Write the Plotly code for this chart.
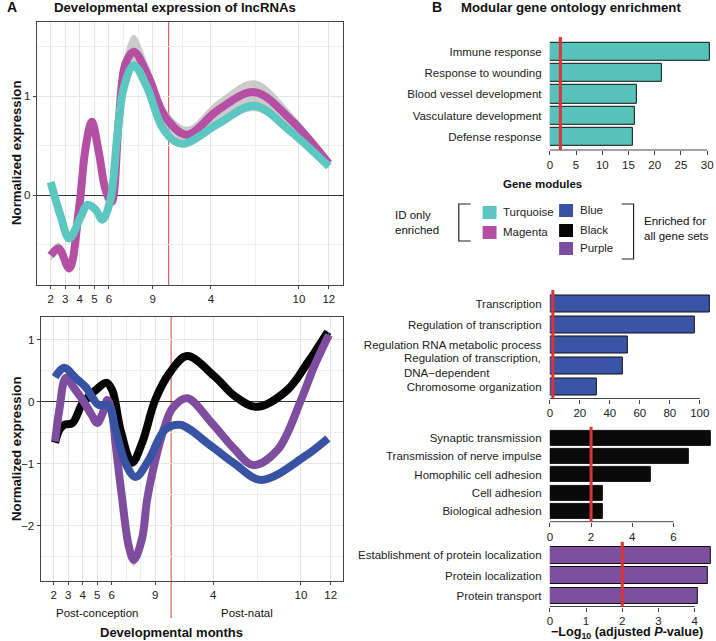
import plotly.graph_objects as go

# Panel A, top: smoothed expression of ID-only modules
# x = developmental timeline (months post-conception, post-natal part compressed)
turq_t = [2.0, 2.7, 3.27, 4.07, 4.52, 5.1, 5.55, 6.1, 6.57, 7.03, 7.71, 8.62, 9.64, 10.55, 11.25, 13.5, 16.0, 18.5, 21.1]
turq_v = [0.13, -0.22, -0.44, -0.22, -0.10, -0.15, -0.25, -0.05, 0.59, 1.09, 1.31, 1.09, 0.69, 0.54, 0.52, 0.72, 0.90, 0.64, 0.29]
turq_se = [0.03, 0.03, 0.03, 0.03, 0.03, 0.03, 0.03, 0.03, 0.03, 0.04, 0.05, 0.04, 0.04, 0.03, 0.03, 0.04, 0.05, 0.04, 0.03]

mag_t = [2.0, 2.55, 3.27, 3.96, 4.41, 4.82, 5.32, 5.77, 6.18, 6.68, 7.14, 7.71, 8.73, 9.87, 11.35, 13.5, 16.0, 18.5, 21.1]
mag_v = [-0.61, -0.54, -0.74, -0.12, 0.49, 0.74, 0.42, 0.05, -0.07, 0.76, 1.33, 1.45, 1.19, 0.79, 0.61, 0.86, 1.04, 0.76, 0.32]
mag_se = [0.06, 0.06, 0.05, 0.04, 0.04, 0.04, 0.04, 0.04, 0.04, 0.06, 0.12, 0.17, 0.12, 0.09, 0.08, 0.10, 0.12, 0.08, 0.04]

# Panel A, bottom: modules enriched for all gene sets
black_t = [2.1, 2.4, 2.73, 3.3, 4.0, 4.9, 5.63, 6.04, 6.61, 7.4, 8.1, 9.0, 10.0, 11.2, 13.1, 14.5, 16.0, 18.1, 19.5, 20.9]
black_v = [-0.66, -0.45, -0.37, -0.34, -0.02, 0.19, 0.31, 0.19, -0.45, -0.98, -0.66, 0.03, 0.47, 0.74, 0.41, 0.09, -0.08, 0.19, 0.63, 1.13]
black_se = [0.04, 0.04, 0.03, 0.03, 0.03, 0.03, 0.03, 0.03, 0.04, 0.07, 0.05, 0.04, 0.04, 0.04, 0.04, 0.04, 0.06, 0.04, 0.04, 0.05]

blue_t = [2.1, 2.73, 3.5, 4.2, 5.1, 5.77, 6.27, 6.95, 7.64, 8.55, 9.67, 10.7, 12.9, 14.5, 16.3, 19.3, 20.9]
blue_v = [0.40, 0.55, 0.39, 0.24, -0.05, -0.05, -0.45, -0.99, -1.21, -0.94, -0.45, -0.37, -0.72, -1.0, -1.26, -0.88, -0.59]
blue_se = [0.03, 0.03, 0.03, 0.03, 0.03, 0.03, 0.03, 0.04, 0.05, 0.04, 0.03, 0.03, 0.03, 0.03, 0.04, 0.03, 0.03]

purple_t = [2.1, 2.39, 2.85, 3.42, 4.0, 4.6, 5.0, 5.35, 5.7, 6.0, 6.27, 6.73, 7.18, 7.53, 8.1, 8.44, 9.0, 9.58, 10.2, 11.2, 12.9, 14.5, 15.75, 17.45, 19.05, 19.95, 20.97]
purple_v = [-0.64, -0.13, 0.39, 0.22, 0.03, -0.2, -0.34, -0.2, 0.03, -0.15, -0.68, -1.58, -2.33, -2.55, -2.2, -1.58, -0.95, -0.45, -0.1, 0.06, -0.34, -0.77, -1.02, -0.77, 0.03, 0.57, 1.08]
purple_se = [0.04, 0.04, 0.04, 0.03, 0.03, 0.03, 0.03, 0.03, 0.03, 0.03, 0.04, 0.05, 0.07, 0.1, 0.07, 0.05, 0.04, 0.04, 0.04, 0.04, 0.04, 0.04, 0.06, 0.04, 0.04, 0.04, 0.04]

dev_tickvals = [2, 3, 4, 5, 6, 9, 13.0, 19.05, 21.1]
dev_ticktext = ["2", "3", "4", "5", "6", "9", "4", "10", "12"]
birth = 10.1

# Panel B: -log10(adjusted P) per GO term
turq_terms = ["Immune response", "Response to wounding", "Blood vessel development",
              "Vasculature development", "Defense response"]
turq_scores = [30.5, 21.4, 16.6, 16.2, 15.8]
blue_terms = ["Transcription", "Regulation of transcription", "Regulation RNA metabolic process",
              "Regulation of transcription,<br>DNA\u2212dependent", "Chromosome organization"]
blue_scores = [107, 97, 51.8, 48.7, 31.5]
black_terms = ["Synaptic transmission", "Transmission of nerve impulse", "Homophilic cell adhesion",
               "Cell adhesion", "Biological adhesion"]
black_scores = [7.8, 6.75, 4.9, 2.57, 2.58]
purple_terms = ["Establishment of protein localization", "Protein localization", "Protein transport"]
purple_scores = [4.44, 4.36, 4.09]
cutoff = 2

W, H = 716, 641
FONT = "Liberation Sans, Arial, sans-serif"
TXT = "#222222"

C_TURQ = "#5CC6C0"
C_MAG = "#B54FA3"
C_BLUE = "#3853A4"
C_BLACK = "#050505"
C_PURPLE = "#7F4DA0"
C_RED = "#D93535"


def fx(p):
    return p / W


def fy(p):
    return 1 - p / H


fig = go.Figure()


def add_curve(t, v, se, color, xa, ya):
    lo = [a - b for a, b in zip(v, se)]
    hi = [a + b for a, b in zip(v, se)]
    fig.add_trace(go.Scatter(x=t, y=lo, mode="lines", line=dict(width=0, shape="spline"),
                             xaxis=xa, yaxis=ya, showlegend=False, hoverinfo="skip"))
    fig.add_trace(go.Scatter(x=t, y=hi, mode="lines", line=dict(width=0, shape="spline"),
                             fill="tonexty", fillcolor="rgba(185,185,185,0.75)",
                             xaxis=xa, yaxis=ya, showlegend=False, hoverinfo="skip"))
    fig.add_trace(go.Scatter(x=t, y=v, mode="lines", line=dict(color=color, width=8, shape="spline"),
                             xaxis=xa, yaxis=ya, showlegend=False))


add_curve(mag_t, mag_v, mag_se, C_MAG, "x", "y")
add_curve(turq_t, turq_v, turq_se, C_TURQ, "x", "y")
add_curve(black_t, black_v, black_se, C_BLACK, "x2", "y2")
add_curve(purple_t, purple_v, purple_se, C_PURPLE, "x2", "y2")
add_curve(blue_t, blue_v, blue_se, C_BLUE, "x2", "y2")

dev_axis = dict(tickmode="array", tickvals=dev_tickvals, ticktext=dev_ticktext,
                showgrid=True, gridcolor="#e6e6e6", gridwidth=1,
                minor=dict(tickmode="array", tickvals=[7, 8, 11.05, 16.05], showgrid=True,
                           gridcolor="#efefef", ticks=""),
                ticks="outside", ticklen=3, tickcolor="#444",
                showline=True, mirror=True, linecolor="#444", linewidth=1.3,
                zeroline=False, tickfont=dict(size=11.5, color=TXT, family=FONT))
expr_axis = dict(showgrid=True, gridcolor="#e6e6e6", gridwidth=1,
                 ticks="outside", ticklen=3, tickcolor="#444",
                 showline=True, mirror=True, linecolor="#444", linewidth=1.3,
                 zeroline=True, zerolinecolor="#333", zerolinewidth=1,
                 tickfont=dict(size=11.5, color=TXT, family=FONT))

fig.update_layout(
    xaxis=dict(dev_axis, domain=[fx(34), fx(342)], range=[1.045, 22.05], anchor="y"),
    yaxis=dict(expr_axis, domain=[fy(285), fy(22)], range=[-0.91, 1.75], anchor="x",
               tickvals=[0, 1], minor=dict(tickmode="array", tickvals=[-0.5, 0.5, 1.5],
                                           showgrid=True, gridcolor="#efefef", ticks="")),
    xaxis2=dict(dev_axis, domain=[fx(38), fx(342)], range=[1.11, 21.92], anchor="y2"),
    yaxis2=dict(expr_axis, domain=[fy(581), fy(317)], range=[-2.89, 1.37], anchor="x2",
                tickvals=[-2, -1, 0, 1], minor=dict(tickmode="array", tickvals=[-2.5, -1.5, -0.5, 0.5],
                                                    showgrid=True, gridcolor="#efefef", ticks="")),
)

shapes = []
annotations = []

# birth line
shapes.append(dict(type="line", xref="x", yref="paper", x0=birth, x1=birth, y0=fy(285), y1=fy(22),
                   line=dict(color="#E06060", width=1.2), layer="between"))
shapes.append(dict(type="line", xref="x2", yref="paper", x0=birth, x1=birth, y0=fy(618), y1=fy(317),
                   line=dict(color="#E06060", width=1.2), layer="between"))

# bar panels: (terms, scores, color, ticks, xmax, top px, bottom px, axis px, red top px, bar width)
panels = [
    (turq_terms, turq_scores, "#56C2BA", [0, 5, 10, 15, 20, 25, 30], 30.74, 40.8, 147.7, 150.0, 37.0, 0.85),
    (blue_terms, blue_scores, "#3A55A6", [0, 20, 40, 60, 80, 100], 107.5, 293.5, 397.0, 398.5, 290.0, 0.82),
    (black_terms, black_scores, "#0A0A0A", [0, 2, 4, 6], 7.82, 428.9, 520.4, 521.7, 426.7, 0.82),
    (purple_terms, purple_scores, "#7D4F9F", [0, 1, 2, 3, 4], 4.45, 545.0, 606.0, 606.5, 541.7, 0.82),
]

for i, (terms, scores, color, ticks, xmax, ytop, ybot, yaxis_px, redtop, bw) in enumerate(panels):
    k = i + 3
    xa, ya = "x%d" % k, "y%d" % k
    n = len(terms)
    rows = list(range(n))
    fig.add_trace(go.Bar(x=scores, y=rows, orientation="h", width=bw,
                         marker=dict(color=color, line=dict(color="#111", width=1)),
                         xaxis=xa, yaxis=ya, showlegend=False))
    spacing = (ybot - ytop) / n
    yr_bottom = n - 0.5 + (yaxis_px - ybot) / spacing
    single = [(r, t) for r, t in enumerate(terms) if "<br>" not in t]
    fig.update_layout({
        "xaxis%d" % k: dict(domain=[fx(550.7), fx(713)], range=[0, xmax], anchor=ya,
                            tickmode="array", tickvals=ticks, ticks="outside", ticklen=4,
                            tickcolor="#444", showline=False, showgrid=False, zeroline=False,
                            tickfont=dict(size=11.5, color=TXT, family=FONT)),
        "yaxis%d" % k: dict(domain=[fy(yaxis_px), fy(ytop)], range=[yr_bottom, -0.5], anchor=xa,
                            tickmode="array", tickvals=[r for r, _ in single],
                            ticktext=[t for _, t in single], ticks="outside",
                            ticklen=5, tickcolor="rgba(0,0,0,0)", showline=False, showgrid=False,
                            zeroline=False, tickfont=dict(size=11.5, color=TXT, family=FONT)),
    })
    for r, t in enumerate(terms):
        if "<br>" in t:
            annotations.append(dict(text=t, xref="paper", yref=ya, x=fx(544), y=r, xanchor="right",
                                    yanchor="middle", align="left", showarrow=False,
                                    font=dict(size=11.5, color=TXT, family=FONT)))
    # axis line from 0 to last tick
    shapes.append(dict(type="line", xref=xa, yref="paper", x0=0, x1=ticks[-1], y0=fy(yaxis_px), y1=fy(yaxis_px),
                       line=dict(color="#444", width=1)))
    # significance cutoff
    shapes.append(dict(type="line", xref=xa, yref="paper", x0=cutoff, x1=cutoff, y0=fy(yaxis_px), y1=fy(redtop),
                       line=dict(color=C_RED, width=3), layer="above"))

# legend of gene modules
shapes.append(dict(type="path", xref="paper", yref="paper",
                   path="M %f %f L %f %f L %f %f L %f %f" % (fx(471), fy(204), fx(459), fy(204),
                                                             fx(459), fy(241), fx(471), fy(241)),
                   line=dict(color="#222", width=1.2)))
shapes.append(dict(type="path", xref="paper", yref="paper",
                   path="M %f %f L %f %f L %f %f L %f %f" % (fx(623), fy(204), fx(635), fy(204),
                                                             fx(635), fy(259), fx(623), fy(259)),
                   line=dict(color="#222", width=1.2)))
legend_items = [
    ("Turquoise", C_TURQ, 483, 206), ("Magenta", C_MAG, 483, 226),
    ("Blue", C_BLUE, 560, 204), ("Black", C_BLACK, 560, 224), ("Purple", C_PURPLE, 560, 242),
]
for name, col, lx, ly in legend_items:
    shapes.append(dict(type="rect", xref="paper", yref="paper", x0=fx(lx), x1=fx(lx + 14),
                       y0=fy(ly + 13), y1=fy(ly), fillcolor=col, line=dict(width=0)))
    annotations.append(dict(text=name, xref="paper", yref="paper", x=fx(lx + 19), y=fy(ly + 6),
                            xanchor="left", yanchor="middle", showarrow=False,
                            font=dict(size=11.5, color=TXT, family=FONT)))


def note(text, x, y, size=11.5, xanchor="center", bold=False, angle=0, align="center"):
    if bold:
        text = "<b>%s</b>" % text
    annotations.append(dict(text=text, xref="paper", yref="paper", x=fx(x), y=fy(y), xanchor=xanchor,
                            yanchor="middle", showarrow=False, textangle=angle, align=align,
                            font=dict(size=size, color="#111", family=FONT)))


note("Gene modules", 543, 184, bold=True)
note("ID only<br>enriched", 393, 222, xanchor="left", align="left")
note("Enriched for<br>all gene sets", 643, 228, xanchor="left", align="left")

note("A", 2, 7, size=14, xanchor="left", bold=True)
note("Developmental expression of lncRNAs", 173, 8, size=13.2, bold=True)
note("B", 430, 7, size=14, xanchor="left", bold=True)
note("Modular gene ontology enrichment", 572, 8, size=13.2, bold=True)

note("Normalized expression", 13, 153, size=13.2, bold=True, angle=-90)
note("Normalized expression", 13, 449, size=13.2, bold=True, angle=-90)
note("Post-conception", 95, 613)
note("Post-natal", 246, 613)
note("Developmental months", 170, 632, size=13, bold=True)
note("\u2212Log<sub>10</sub> (adjusted <i>P</i>-value)", 628, 633, size=12.6, bold=True)

fig.update_layout(width=W, height=H, autosize=False, margin=dict(l=0, r=0, t=0, b=0),
                  paper_bgcolor="white", plot_bgcolor="white", shapes=shapes,
                  annotations=annotations, font=dict(family=FONT, color=TXT), bargap=0)

fig.write_html("out.html", config={"displayModeBar": False},
               post_script="document.body.style.margin='0';")
